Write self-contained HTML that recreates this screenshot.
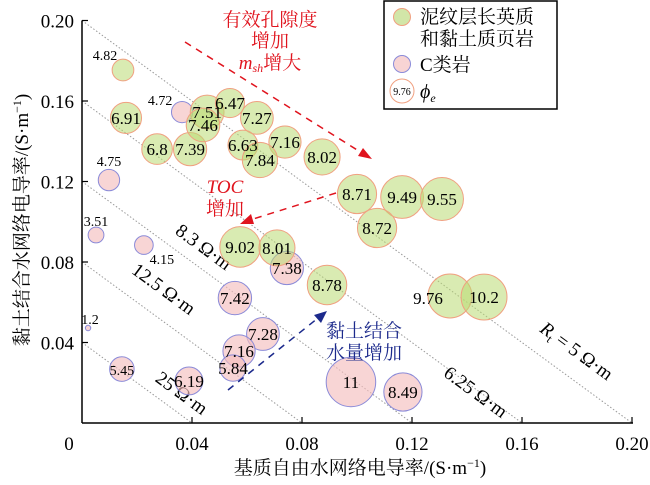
<!DOCTYPE html>
<html><head><meta charset="utf-8"><style>
html,body{margin:0;padding:0;background:#fff;}
svg{display:block;font-family:"Liberation Serif","Noto Serif CJK SC",serif;}
</style></head><body>
<svg id="chart" width="650" height="485" viewBox="0 0 650 485" xmlns="http://www.w3.org/2000/svg">
<g id="isolines"></g>
<g id="isolabels" font-size="19" fill="#000">
<text transform="translate(200,252) rotate(36.2)" text-anchor="middle">8.3 Ω·m</text>
<text transform="translate(160,294) rotate(36.2)" text-anchor="middle">12.5 Ω·m</text>
<text transform="translate(178,398) rotate(36.2)" text-anchor="middle">25 Ω·m</text>
<text transform="translate(472,397) rotate(36.2)" text-anchor="middle">6.25 Ω·m</text>
<text transform="translate(573,356) rotate(36.2)" text-anchor="middle"><tspan font-style="italic">R</tspan><tspan font-size="12" dy="4">t</tspan><tspan dy="-4"> = 5 Ω·m</tspan></text>
</g>
<g id="bubbles"></g>
<g id="axes"></g>
<g>
<text x="270" y="26" font-size="19" fill="#e0141e" text-anchor="middle">有效孔隙度</text>
<text x="270" y="47" font-size="19" fill="#e0141e" text-anchor="middle">增加</text>
<text x="270" y="69" font-size="19" fill="#e0141e" text-anchor="middle"><tspan font-style="italic">m</tspan><tspan font-size="12" dy="3" font-style="italic">sh</tspan><tspan dy="-3">增大</tspan></text>
<line x1="185" y1="42" x2="362" y2="153" stroke="#e0141e" stroke-width="1.5" stroke-dasharray="7,6"/>
<polygon points="372,159 358,156 363,148" fill="#e0141e"/>
<text x="225" y="193" font-size="19" fill="#e0141e" font-style="italic" text-anchor="middle">TOC</text>
<text x="225" y="215" font-size="19" fill="#e0141e" text-anchor="middle">增加</text>
<line x1="336" y1="193" x2="250" y2="220" stroke="#e0141e" stroke-width="1.5" stroke-dasharray="7,6"/>
<polygon points="240,224 251,214 254,224" fill="#e0141e"/>
<text x="364" y="337" font-size="19" fill="#1c2a8c" text-anchor="middle">黏土结合</text>
<text x="364" y="359" font-size="19" fill="#1c2a8c" text-anchor="middle">水量增加</text>
<line x1="228" y1="390" x2="318" y2="318" stroke="#1c2a8c" stroke-width="1.5" stroke-dasharray="7,6"/>
<polygon points="327,311 321,323 314,315" fill="#1c2a8c"/>
</g>
<g>
<rect x="384" y="1" width="173" height="108" fill="#fff" stroke="#000" stroke-width="1.5"/>
<circle cx="402" cy="17" r="8.5" fill="#d2e6a8" stroke="#f0a080"/>
<text x="420" y="23" font-size="19">泥纹层长英质</text>
<text x="420" y="45" font-size="19">和黏土质页岩</text>
<circle cx="402" cy="64" r="8.5" fill="#f8d4d4" stroke="#8a8ad8"/>
<text x="420" y="71" font-size="19">C类岩</text>
<circle cx="402" cy="91" r="12" fill="#fff" stroke="#f0a080"/>
<text x="402" y="95" font-size="10" text-anchor="middle">9.76</text>
<text x="420" y="98" font-size="20" font-style="italic">ϕ<tspan font-size="12" dy="4">e</tspan></text>
</g>
<text x="360" y="474" font-size="19" text-anchor="middle">基质自由水网络电导率/(S·m<tspan font-size="12" dy="-7">−1</tspan><tspan dy="7">)</tspan></text>
<text transform="translate(28,220) rotate(-90)" font-size="19" text-anchor="middle">黏土结合水网络电导率/(S·m<tspan font-size="12" dy="-7">−1</tspan><tspan dy="7">)</tspan></text>
</svg>
<script>
const greenPhi = [4.82,6.91,6.8,7.39,7.51,7.46,6.47,7.27,6.63,7.16,7.84,8.02,8.71,9.49,9.55,8.72,9.02,8.01,8.78,9.76,10.2];
const greenX = [0.0149,0.0160,0.0273,0.0393,0.0455,0.0440,0.0538,0.0636,0.0585,0.0738,0.0647,0.0873,0.1000,0.1164,0.1309,0.1073,0.0575,0.0709,0.0891,0.1338,0.1462];
const greenY = [0.1754,0.1516,0.1361,0.1361,0.1545,0.1481,0.1590,0.1516,0.1381,0.1396,0.1307,0.1322,0.1138,0.1123,0.1113,0.0969,0.0875,0.0870,0.0686,0.0631,0.0626];
const pinkPhi = [4.72,4.75,3.51,4.15,7.38,7.42,7.28,7.16,5.84,1.2,5.45,6.19,11,8.49];
const pinkX = [0.0364,0.0098,0.0051,0.0225,0.0745,0.0556,0.0658,0.0571,0.0549,0.0022,0.0145,0.0389,0.0978,0.1167];
const pinkY = [0.1545,0.1207,0.0934,0.0884,0.0770,0.0621,0.0442,0.0358,0.0273,0.0472,0.0268,0.0209,0.0204,0.0154];
const isoSums = [0.2,0.16,0.12,0.08,0.04];
const xTicks = [0,0.04,0.08,0.12,0.16,0.20];
const xTickLabels = ["0","0.04","0.08","0.12","0.16","0.20"];
const yTicks = [0.04,0.08,0.12,0.16,0.20];
const yTickLabels = ["0.04","0.08","0.12","0.16","0.20"];
const offsetLabels = {"4.82":[-18,-16],"4.72":[-22,-13],"4.75":[0,-20],"3.51":[0,-15],"4.15":[18,13],"1.2":[2,-10],"9.76":[-22,2]};

const X0=82, X1=632, Y0=423, Y1=20.5;
const sx = v => X0 + v/0.2*(X1-X0);
const sy = v => Y0 - v/0.2*(Y0-Y1);
const rr = p => 2.25*p;
const NS="http://www.w3.org/2000/svg";
function mk(tag, attrs, parent){const e=document.createElementNS(NS,tag);for(const k in attrs)e.setAttribute(k,attrs[k]);parent.appendChild(e);return e;}

const iso=document.getElementById('isolines');
isoSums.forEach((s,i)=>{
  const l=mk('line',{x1:sx(0),y1:sy(s),x2:sx(s),y2:sy(0),stroke:'#999','stroke-width':1,'stroke-dasharray':'1.5,2'},iso);
  
  
});

const bub=document.getElementById('bubbles');
function drawSeries(phis,xs,ys,fill,stroke,name){
  phis.forEach((p,i)=>{
    const c=mk('circle',{cx:sx(xs[i]),cy:sy(ys[i]),r:rr(p),fill:fill,stroke:stroke,'stroke-width':1},bub);
    
    
  });
}
function drawLabels(phis,xs,ys,name){
  phis.forEach((p,i)=>{
    const off=offsetLabels[String(p)]||[0,0];
    const fs = rr(p)<13 ? 14 : 17;
    const t=mk('text',{x:sx(xs[i])+off[0],y:sy(ys[i])+off[1]+6,'font-size':fs,'text-anchor':'middle',fill:'#000'},bub);
    t.textContent=String(p);
    
    
  });
}
drawSeries(pinkPhi,pinkX,pinkY,'rgba(244,190,190,0.65)','#8a8ad8','pink');
drawSeries(greenPhi,greenX,greenY,'rgba(185,218,115,0.55)','#f0a080','green');
drawLabels(pinkPhi,pinkX,pinkY,'pink');
drawLabels(greenPhi,greenX,greenY,'green');

const ax=document.getElementById('axes');
const xl=mk('line',{x1:X0,y1:Y0,x2:X1+1,y2:Y0,stroke:'#000','stroke-width':1.5},ax);


const yl=mk('line',{x1:X0,y1:Y0,x2:X0,y2:Y1,stroke:'#000','stroke-width':1.5},ax);


xTicks.forEach((v,i)=>{
  if(v>0){const t=mk('line',{x1:sx(v),y1:Y0,x2:sx(v),y2:Y0-6,stroke:'#000','stroke-width':1.2},ax);
  
  }
  const tx=mk('text',{x:sx(v)-(v===0?13:0),y:Y0+27,'font-size':19,'text-anchor':'middle'},ax);
  tx.textContent=xTickLabels[i];
  
  
});
yTicks.forEach((v,i)=>{
  const t=mk('line',{x1:X0,y1:sy(v),x2:X0+6,y2:sy(v),stroke:'#000','stroke-width':1.2},ax);
  
  
  const tx=mk('text',{x:X0-8,y:sy(v)+7,'font-size':19,'text-anchor':'end'},ax);
  tx.textContent=yTickLabels[i];
  
  
});
</script>
</body></html>
